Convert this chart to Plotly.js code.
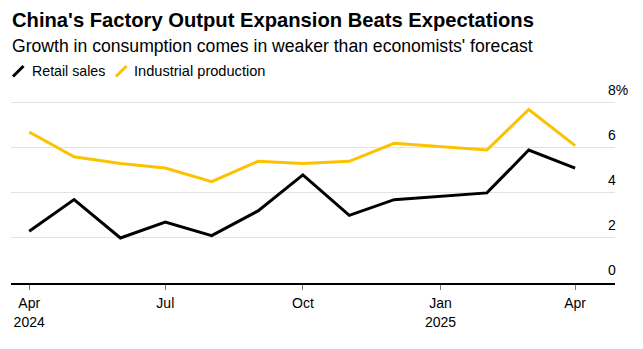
<!DOCTYPE html>
<html>
<head>
<meta charset="utf-8">
<script src="https://cdn.plot.ly/plotly-3.0.1.min.js"></script>
<style>
html,body{margin:0;padding:0;background:#fff;}
#chart{width:643px;height:349px;}
</style>
</head>
<body>
<div id="chart"></div>
<script>
// ---- data ----
const months = ['2024-04-01','2024-05-01','2024-06-01','2024-07-01','2024-08-01','2024-09-01','2024-10-01','2024-11-01','2024-12-01','2025-02-01','2025-03-01','2025-04-01'];
const retailSales = [2.3, 3.7, 2.0, 2.7, 2.1, 3.2, 4.8, 3.0, 3.7, 4.0, 5.9, 5.1];
const industrialProduction = [6.7, 5.6, 5.3, 5.1, 4.5, 5.4, 5.3, 5.4, 6.2, 5.9, 7.7, 6.1];
const seriesNames = ['Retail sales', 'Industrial production'];
const xTickVals = ['2024-04-01','2024-07-01','2024-10-01','2025-01-01','2025-04-01'];
const xTickText = ['Apr<br>2024','Jul','Oct','Jan<br>2025','Apr'];
const yTickVals = [0, 2, 4, 6, 8];
const yTickText = ['0', '2', '4', '6', '8%'];

const W = 643, H = 349;
const M = {l: 11, r: 28, t: 96, b: 66};
const plotW = W - M.l - M.r, plotH = H - M.t - M.b;
const px = x => (x - M.l) / plotW;
const py = y => (H - M.b - y) / plotH;

const FONT = 'Liberation Sans, Arial, sans-serif';
const BLACK = '#000000', YELLOW = '#fcc200';

const traces = [
  {x: months, y: industrialProduction, name: seriesNames[1], type: 'scatter', mode: 'lines',
   line: {color: YELLOW, width: 3}, hoverinfo: 'skip'},
  {x: months, y: retailSales, name: seriesNames[0], type: 'scatter', mode: 'lines',
   line: {color: BLACK, width: 3}, hoverinfo: 'skip'}
];

const layout = {
  width: W, height: H,
  margin: M,
  paper_bgcolor: '#fff', plot_bgcolor: '#fff',
  showlegend: false,
  font: {family: FONT, size: 14, color: '#000'},
  xaxis: {
    type: 'date',
    range: ['2024-03-19 20:00', '2025-04-27 16:00'],
    tickvals: xTickVals, ticktext: xTickText,
    showgrid: false, zeroline: false,
    showline: true, linecolor: '#000', linewidth: 1.5,
    ticks: 'outside', ticklen: 5, tickcolor: '#777', tickwidth: 1,
    ticklabelstandoff: 2,
    tickfont: {family: FONT, size: 14, color: '#000'}
  },
  yaxis: {
    range: [0, 8.3],
    side: 'right',
    tickvals: yTickVals, ticktext: yTickText,
    showgrid: true, gridcolor: '#e3e3e3', gridwidth: 1,
    zeroline: false, showline: false, ticks: '',
    ticklabelposition: 'outside',
    ticklabelshift: -13,
    ticklabelstandoff: -8,
    tickfont: {family: FONT, size: 14, color: '#000'}
  },
  annotations: [
    {text: "<b>China's Factory Output Expansion Beats Expectations</b>", xref: 'paper', yref: 'paper',
     x: px(10), y: py(20), xanchor: 'left', yanchor: 'middle', showarrow: false,
     font: {family: FONT, size: 20.2, color: '#000'}},
    {text: "Growth in consumption comes in weaker than economists' forecast", xref: 'paper', yref: 'paper',
     x: px(10), y: py(45.5), xanchor: 'left', yanchor: 'middle', showarrow: false,
     font: {family: FONT, size: 17.6, color: '#000'}},
    {text: seriesNames[0], xref: 'paper', yref: 'paper',
     x: px(29.5), y: py(71), xanchor: 'left', yanchor: 'middle', showarrow: false,
     font: {family: FONT, size: 14.2, color: '#000'}},
    {text: seriesNames[1], xref: 'paper', yref: 'paper',
     x: px(132), y: py(71), xanchor: 'left', yanchor: 'middle', showarrow: false,
     font: {family: FONT, size: 14.6, color: '#000'}}
  ],
  shapes: [
    {type: 'line', xref: 'paper', yref: 'paper', x0: px(13), y0: py(76.5), x1: px(23.5), y1: py(66),
     line: {color: BLACK, width: 3}},
    {type: 'line', xref: 'paper', yref: 'paper', x0: px(116), y0: py(76.5), x1: px(126.5), y1: py(66),
     line: {color: YELLOW, width: 3}}
  ]
};

Plotly.newPlot('chart', traces, layout, {displayModeBar: false, staticPlot: true});
</script>
</body>
</html>
